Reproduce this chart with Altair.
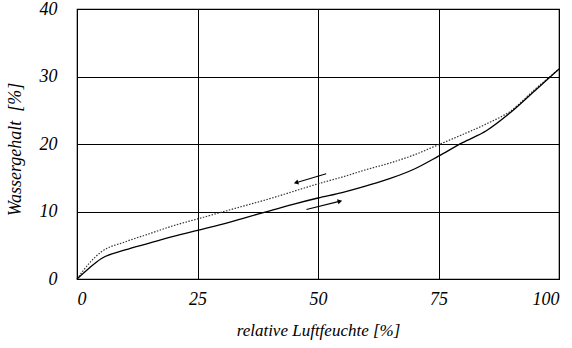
import altair as alt
import pandas as pd

rh = [0, 2.5, 5, 10, 15, 20, 25, 30, 35, 40, 45, 50, 55, 60, 65, 70, 75, 80, 85, 90, 95, 100]
adsorption = [0, 1.6, 3.0, 4.3, 5.3, 6.3, 7.2, 8.1, 9.1, 10.1, 11.1, 12.0, 12.8, 13.8, 14.9, 16.3, 18.2, 20.2, 22.0, 24.7, 27.9, 31.1]
desorption = [0, 2.3, 4.0, 5.5, 6.7, 7.9, 8.9, 9.9, 10.9, 11.9, 13.0, 14.1, 15.1, 16.2, 17.2, 18.4, 19.9, 21.4, 23.0, 24.9, 28.1, 31.1]

# arrows: start (x, y) -> end (x2, y2)
arrow_x = [51.7, 47.6]
arrow_y = [15.6, 10.3]
arrow_x2 = [45.6, 54.4]
arrow_y2 = [14.3, 11.5]
arrow_angle = [253, 76]

x_ticks = [0, 25, 50, 75, 100]
y_ticks = [0, 10, 20, 30, 40]

df = pd.DataFrame({"rh": rh, "ads": adsorption, "des": desorption})
arr = pd.DataFrame({"x": arrow_x, "y": arrow_y, "x2": arrow_x2, "y2": arrow_y2, "angle": arrow_angle})

FONT = "Liberation Serif"

xscale = alt.Scale(domain=[0, 100], nice=False, zero=False)
yscale = alt.Scale(domain=[0, 40], nice=False, zero=False)

xaxis = alt.Axis(values=x_ticks, title="relative Luftfeuchte [%]", grid=True, gridColor="black",
                 gridOpacity=1, gridWidth=1, ticks=False, domain=False, labelPadding=11,
                 labelFont=FONT, labelFontStyle="italic", labelFontSize=18, labelColor="black",
                 titleFont=FONT, titleFontStyle="italic", titleFontSize=17, titleFontWeight="normal",
                 titleColor="black", titleBaseline="alphabetic", titleY=56)
yaxis = alt.Axis(values=y_ticks, title="Wassergehalt\u00a0 [%]", grid=True, gridColor="black",
                 gridOpacity=1, gridWidth=1, ticks=False, domain=False, labelPadding=20,
                 labelFont=FONT, labelFontStyle="italic", labelFontSize=18, labelColor="black",
                 titleFont=FONT, titleFontStyle="italic", titleFontSize=18, titleFontWeight="normal",
                 titleColor="black", titleAngle=270, titleBaseline="middle", titleX=-62, titleY=140)

base = alt.Chart(df)

grid_layer = base.mark_line(opacity=0).encode(
    x=alt.X("rh:Q", scale=xscale, axis=xaxis),
    y=alt.Y("ads:Q", scale=yscale, axis=yaxis),
)

ads_line = base.mark_line(color="black", strokeWidth=1.3, interpolate="monotone").encode(
    x=alt.X("rh:Q", scale=xscale),
    y=alt.Y("ads:Q", scale=yscale),
)

des_line = base.mark_line(color="#333333", strokeWidth=1.2, strokeDash=[1.5, 1.5], interpolate="monotone").encode(
    x=alt.X("rh:Q", scale=xscale),
    y=alt.Y("des:Q", scale=yscale),
)

arrow_lines = alt.Chart(arr).mark_rule(color="black", strokeWidth=1.2).encode(
    x=alt.X("x:Q", scale=xscale),
    y=alt.Y("y:Q", scale=yscale),
    x2="x2:Q",
    y2="y2:Q",
)

arrow_heads = alt.Chart(arr).mark_point(shape="triangle", filled=True, color="black", size=28, opacity=1).encode(
    x=alt.X("x2:Q", scale=xscale),
    y=alt.Y("y2:Q", scale=yscale),
    angle=alt.Angle("angle:Q", scale=None),
)

chart = alt.layer(grid_layer, des_line, ads_line, arrow_lines, arrow_heads).properties(
    width=482, height=270,
    autosize=alt.AutoSizeParams(type="none"),
    padding={"left": 77, "top": 9, "right": 13, "bottom": 69},
    background="white",
).configure_view(stroke="black", strokeWidth=1.2)

chart.save("out.html", embed_options={"renderer": "svg", "actions": False})
